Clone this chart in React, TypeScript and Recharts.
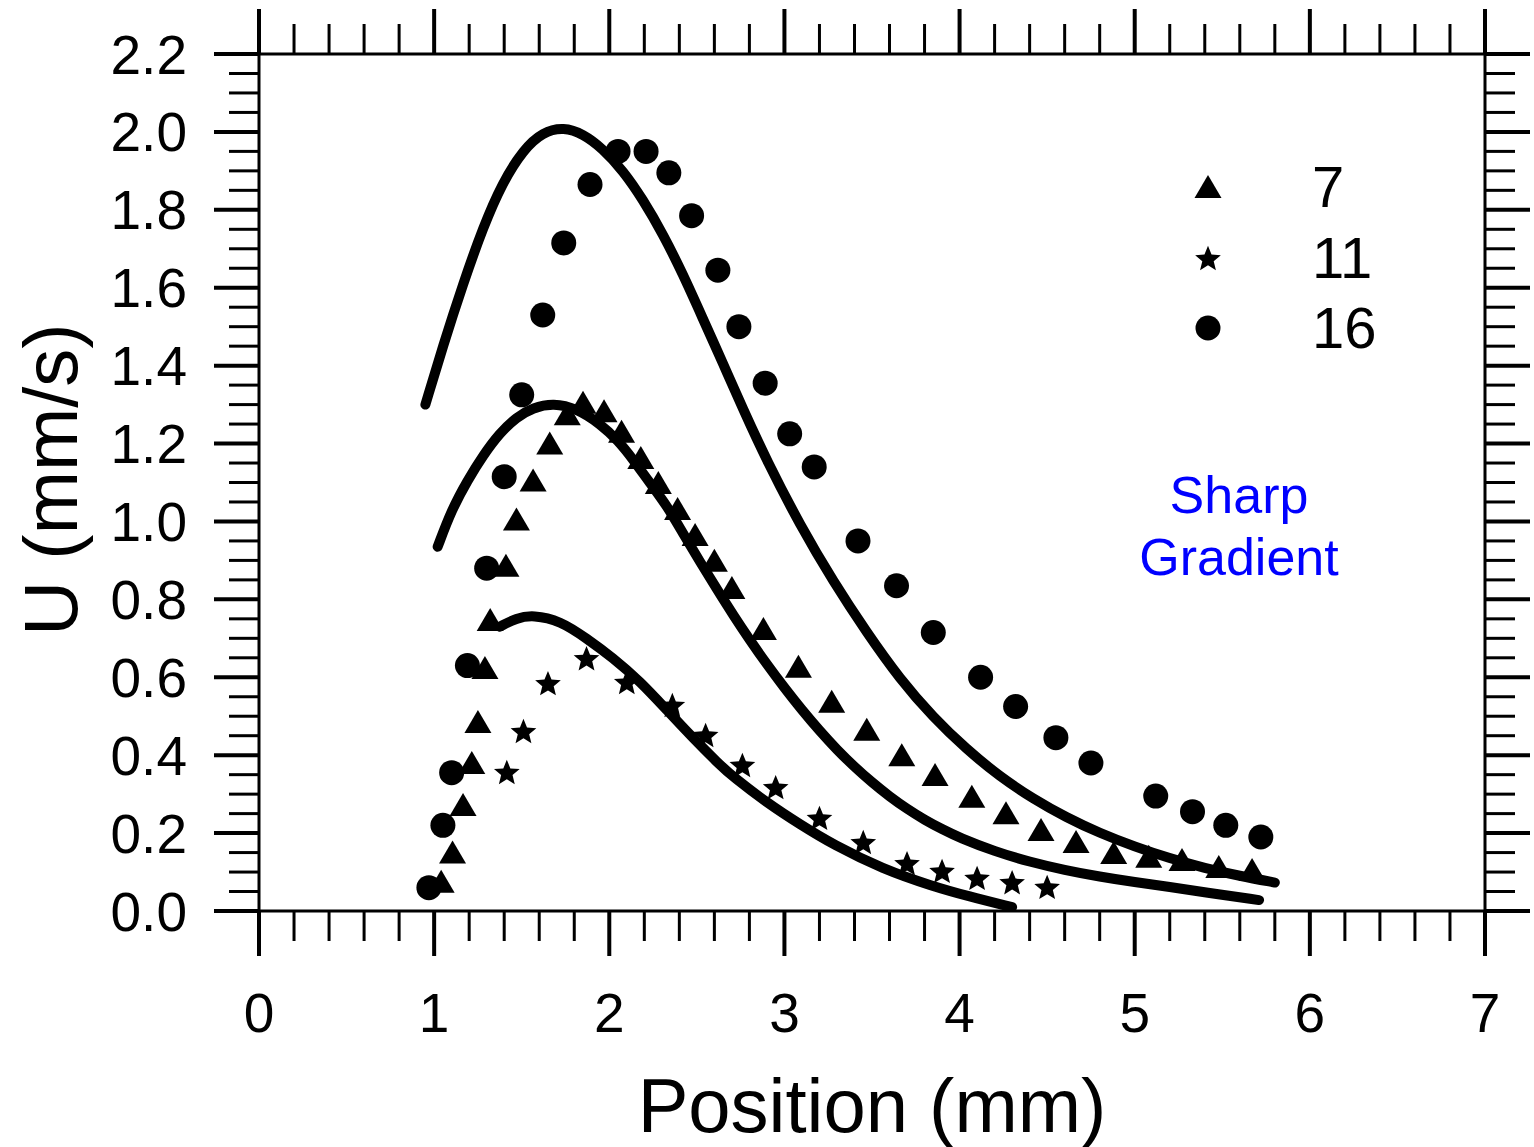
import React from 'react';
import { ComposedChart, Line, Scatter, XAxis, YAxis, Legend } from 'recharts';

const FONT = 'Arial, "Liberation Sans", Helvetica, sans-serif';

// Frame geometry (px)
const WIDTH = 1534;
const HEIGHT = 1147;
const PLOT = { left: 259, right: 1485, top: 54, bottom: 911 };
const MAJOR_LEN = 45;
const MINOR_LEN = 30;

// Axis ticks
const xMajorTicks = [0, 1, 2, 3, 4, 5, 6, 7];
const xMinorSteps = 5;
const yMajorTicks = [0, 0.2, 0.4, 0.6, 0.8, 1.0, 1.2, 1.4, 1.6, 1.8, 2.0, 2.2];
const yMinorSteps = 4;

// Measured U, run 7 (triangles)
const run7: [number, number][] = [
  [1.04, 0.075], [1.105, 0.15], [1.165, 0.272], [1.215, 0.38], [1.25, 0.485],
  [1.29, 0.624], [1.32, 0.747], [1.41, 0.886], [1.47, 1.005], [1.565, 1.105],
  [1.66, 1.2], [1.76, 1.275], [1.85, 1.305], [1.97, 1.283], [2.07, 1.23],
  [2.18, 1.163], [2.28, 1.099], [2.39, 1.032], [2.49, 0.965], [2.6, 0.899],
  [2.7, 0.829], [2.88, 0.724], [3.08, 0.627], [3.27, 0.537], [3.47, 0.465],
  [3.67, 0.4], [3.86, 0.349], [4.07, 0.293], [4.265, 0.251], [4.465, 0.208],
  [4.665, 0.177], [4.88, 0.149], [5.08, 0.139], [5.27, 0.131], [5.48, 0.113],
  [5.67, 0.105],
];

// Measured U, run 11 (stars)
const run11: [number, number][] = [
  [1.415, 0.357], [1.51, 0.462], [1.65, 0.585], [1.87, 0.649], [2.1, 0.588],
  [2.36, 0.529], [2.55, 0.452], [2.76, 0.375], [2.95, 0.318], [3.2, 0.239],
  [3.45, 0.177], [3.7, 0.123], [3.9, 0.103], [4.1, 0.085], [4.3, 0.074],
  [4.5, 0.062],
];

// Measured U, run 16 (circles)
const run16: [number, number][] = [
  [0.97, 0.06], [1.05, 0.22], [1.1, 0.355], [1.19, 0.63], [1.3, 0.88],
  [1.4, 1.115], [1.5, 1.325], [1.62, 1.53], [1.74, 1.715], [1.89, 1.865],
  [2.05, 1.95], [2.21, 1.95], [2.34, 1.895], [2.47, 1.785], [2.62, 1.645],
  [2.74, 1.5], [2.89, 1.355], [3.03, 1.225], [3.17, 1.14], [3.42, 0.95],
  [3.64, 0.835], [3.85, 0.715], [4.12, 0.6], [4.32, 0.525], [4.55, 0.445],
  [4.75, 0.38], [5.12, 0.295], [5.33, 0.255], [5.52, 0.22], [5.72, 0.19],
];

// Model profiles
const model16: [number, number][] = [
  [0.95, 1.3], [1.05, 1.45], [1.165, 1.61], [1.28, 1.756], [1.39, 1.87],
  [1.51, 1.955], [1.62, 2.0], [1.74, 2.012], [1.85, 1.995], [1.96, 1.958],
  [2.08, 1.9], [2.19, 1.828], [2.31, 1.735], [2.42, 1.635], [2.53, 1.525],
  [2.65, 1.405], [2.76, 1.292], [2.9, 1.155], [3.09, 0.99], [3.28, 0.845],
  [3.47, 0.715], [3.66, 0.595], [3.85, 0.497], [4.04, 0.415], [4.23, 0.345],
  [4.42, 0.288], [4.61, 0.24], [4.8, 0.2], [5.0, 0.165], [5.2, 0.135],
  [5.4, 0.11], [5.6, 0.09], [5.8, 0.073],
];

const model7: [number, number][] = [
  [1.02, 0.935], [1.1, 1.03], [1.19, 1.105], [1.28, 1.17], [1.375, 1.227],
  [1.47, 1.268], [1.565, 1.292], [1.68, 1.304], [1.815, 1.29], [1.95, 1.25],
  [2.05, 1.208], [2.135, 1.16], [2.23, 1.1], [2.33, 1.04], [2.42, 0.97],
  [2.52, 0.895], [2.62, 0.822], [2.71, 0.758], [2.8, 0.697], [2.9, 0.633],
  [3.0, 0.573], [3.1, 0.516], [3.2, 0.463], [3.3, 0.414], [3.4, 0.37],
  [3.5, 0.33], [3.6, 0.294], [3.7, 0.262], [3.8, 0.234], [3.9, 0.21],
  [4.0, 0.188], [4.2, 0.153], [4.4, 0.126], [4.6, 0.105], [4.8, 0.088],
  [5.0, 0.074], [5.2, 0.062], [5.4, 0.048], [5.71, 0.028],
];

const model11: [number, number][] = [
  [1.375, 0.73], [1.47, 0.752], [1.565, 0.76], [1.72, 0.745], [1.87, 0.7],
  [2.02, 0.65], [2.175, 0.59], [2.33, 0.515], [2.48, 0.443], [2.62, 0.38],
  [2.71, 0.343], [2.9, 0.278], [3.09, 0.222], [3.28, 0.17], [3.56, 0.108],
  [3.85, 0.063], [4.05, 0.038], [4.3, 0.01],
];

const legendOrder = ['7', '11', '16'];

const toPoints = (arr: [number, number][]) => arr.map(([x, y]) => ({ x, y }));

const subdivide = (majors: number[], steps: number) => {
  const out: number[] = [];
  for (let i = 0; i < majors.length - 1; i++) {
    const a = majors[i];
    const b = majors[i + 1];
    for (let k = 0; k < steps; k++) out.push(+(a + ((b - a) * k) / steps).toFixed(4));
  }
  out.push(majors[majors.length - 1]);
  return out;
};

const xTicks = subdivide(xMajorTicks, xMinorSteps);
const yTicks = subdivide(yMajorTicks, yMinorSteps);
const isMajorX = (v: number) => xMajorTicks.some((m) => Math.abs(m - v) < 1e-6);
const isMajorY = (v: number) => yMajorTicks.some((m) => Math.abs(m - v) < 1e-6);

// Marker shapes
const CircleMark = ({ cx, cy }: any) => <circle cx={cx} cy={cy} r={12.5} fill="#000" />;

const TriangleMark = ({ cx, cy }: any) => (
  <path d={`M${cx},${cy - 12} L${cx + 13.5},${cy + 11} L${cx - 13.5},${cy + 11} Z`} fill="#000" />
);

const StarMark = ({ cx, cy }: any) => {
  const outer = 13.5;
  const inner = 6;
  const pts: string[] = [];
  for (let i = 0; i < 10; i++) {
    const r = i % 2 === 0 ? outer : inner;
    const a = -Math.PI / 2 + (i * Math.PI) / 5;
    pts.push(`${cx + r * Math.cos(a)},${cy + 1.3 + r * Math.sin(a)}`);
  }
  return <polygon points={pts.join(' ')} fill="#000" />;
};

const shapeFor: Record<string, any> = { '7': TriangleMark, '11': StarMark, '16': CircleMark };

// Tick renderers: majors long and labelled, minors short
const BottomTick = ({ x, payload }: any) => {
  const major = isMajorX(payload.value);
  const y = PLOT.bottom;
  return (
    <g>
      <line x1={x} y1={y} x2={x} y2={y + (major ? MAJOR_LEN : MINOR_LEN)} stroke="#000" strokeWidth={major ? 4 : 3} />
      {major && (
        <text x={x} y={y + 121} textAnchor="middle" fontSize={55} fontFamily={FONT} fill="#000">
          {payload.value}
        </text>
      )}
    </g>
  );
};

const TopTick = ({ x, payload }: any) => {
  const major = isMajorX(payload.value);
  const y = PLOT.top;
  return (
    <line x1={x} y1={y} x2={x} y2={y - (major ? MAJOR_LEN : MINOR_LEN)} stroke="#000" strokeWidth={major ? 4 : 3} />
  );
};

const LeftTick = ({ y, payload }: any) => {
  const major = isMajorY(payload.value);
  const x = PLOT.left;
  return (
    <g>
      <line x1={x - (major ? MAJOR_LEN : MINOR_LEN)} y1={y} x2={x} y2={y} stroke="#000" strokeWidth={major ? 4 : 3} />
      {major && (
        <text x={x - 72} y={y + 19.5} textAnchor="end" fontSize={55} fontFamily={FONT} fill="#000">
          {Number(payload.value).toFixed(1)}
        </text>
      )}
    </g>
  );
};

const RightTick = ({ y, payload }: any) => {
  const major = isMajorY(payload.value);
  const x = PLOT.right;
  return (
    <line x1={x} y1={y} x2={x + (major ? MAJOR_LEN : MINOR_LEN)} y2={y} stroke="#000" strokeWidth={major ? 4 : 3} />
  );
};

const XTitle = () => (
  <text x={(PLOT.left + PLOT.right) / 2} y={PLOT.bottom + 221} textAnchor="middle" fontSize={76} fontFamily={FONT} fill="#000">
    Position (mm)
  </text>
);

const YTitle = () => (
  <text
    transform={`translate(77, ${(PLOT.top + PLOT.bottom) / 2 - 3}) rotate(-90)`}
    x={0}
    y={0}
    textAnchor="middle"
    fontSize={76}
    fontFamily={FONT}
    fill="#000"
  >
    U (mm/s)
  </text>
);

const renderLegend = (props: any) => {
  const items = (props.payload || [])
    .filter((p: any) => shapeFor[String(p.value)])
    .sort((a: any, b: any) => legendOrder.indexOf(String(a.value)) - legendOrder.indexOf(String(b.value)));
  return (
    <div style={{ fontFamily: FONT, fontSize: 58, color: '#000' }}>
      {items.map((it: any) => {
        const S = shapeFor[String(it.value)];
        return (
          <div key={String(it.value)} style={{ display: 'flex', alignItems: 'center', height: 70.5 }}>
            <svg width={56} height={40} style={{ display: 'block' }}>
              <S cx={28} cy={20} />
            </svg>
            <span style={{ marginLeft: 76, lineHeight: '70.5px' }}>{it.value}</span>
          </div>
        );
      })}
    </div>
  );
};

const axisLine = { stroke: '#000', strokeWidth: 3 };
const lineStyle = {
  type: 'basis' as const,
  stroke: '#000',
  strokeWidth: 10,
  strokeLinecap: 'round' as const,
  strokeLinejoin: 'round' as const,
  dot: false,
  activeDot: false,
  legendType: 'none' as const,
  isAnimationActive: false,
};

export default function App() {
  return (
    <div style={{ position: 'absolute', left: 0, top: 0, width: WIDTH, height: HEIGHT, background: '#fff' }}>
      <ComposedChart
        width={WIDTH}
        height={HEIGHT}
        margin={{ top: PLOT.top - 1, right: WIDTH - PLOT.right - 1, bottom: HEIGHT - PLOT.bottom - 1, left: 0 }}
      >
        <XAxis
          xAxisId="b"
          dataKey="x"
          type="number"
          domain={[0, 7]}
          allowDataOverflow
          ticks={xTicks}
          interval={0}
          height={1}
          tickSize={0}
          tickMargin={0}
          tickLine={false}
          axisLine={axisLine}
          tick={<BottomTick />}
          label={<XTitle />}
        />
        <XAxis
          xAxisId="t"
          orientation="top"
          dataKey="x"
          type="number"
          domain={[0, 7]}
          allowDataOverflow
          ticks={xTicks}
          interval={0}
          height={1}
          tickSize={0}
          tickMargin={0}
          tickLine={false}
          axisLine={axisLine}
          tick={<TopTick />}
        />
        <YAxis
          yAxisId="l"
          dataKey="y"
          type="number"
          domain={[0, 2.2]}
          allowDataOverflow
          ticks={yTicks}
          interval={0}
          width={PLOT.left}
          tickSize={0}
          tickMargin={0}
          tickLine={false}
          axisLine={axisLine}
          tick={<LeftTick />}
          label={<YTitle />}
        />
        <YAxis
          yAxisId="r"
          orientation="right"
          dataKey="y"
          type="number"
          domain={[0, 2.2]}
          allowDataOverflow
          ticks={yTicks}
          interval={0}
          width={1}
          tickSize={0}
          tickMargin={0}
          tickLine={false}
          axisLine={axisLine}
          tick={<RightTick />}
        />

        <Line xAxisId="t" yAxisId="r" data={toPoints(model16)} dataKey="y" {...lineStyle} />
        <Line xAxisId="t" yAxisId="r" data={toPoints(model7)} dataKey="y" {...lineStyle} />
        <Line xAxisId="t" yAxisId="r" data={toPoints(model11)} dataKey="y" {...lineStyle} />

        <Scatter xAxisId="b" yAxisId="l" name="7" data={toPoints(run7)} dataKey="y" fill="#000" shape={TriangleMark} isAnimationActive={false} />
        <Scatter xAxisId="b" yAxisId="l" name="11" data={toPoints(run11)} dataKey="y" fill="#000" shape={StarMark} isAnimationActive={false} />
        <Scatter xAxisId="b" yAxisId="l" name="16" data={toPoints(run16)} dataKey="y" fill="#000" shape={CircleMark} isAnimationActive={false} />

        <Legend
          layout="vertical"
          align="center"
          verticalAlign="middle"
          width={260}
          content={renderLegend}
          wrapperStyle={{ left: 1180, top: 152, width: 260 }}
        />
      </ComposedChart>
      <div
        style={{
          position: 'absolute',
          left: 1039,
          top: 464,
          width: 400,
          textAlign: 'center',
          fontFamily: FONT,
          fontSize: 52,
          lineHeight: '62px',
          color: '#0000ff',
        }}
      >
        Sharp
        <br />
        Gradient
      </div>
    </div>
  );
}
